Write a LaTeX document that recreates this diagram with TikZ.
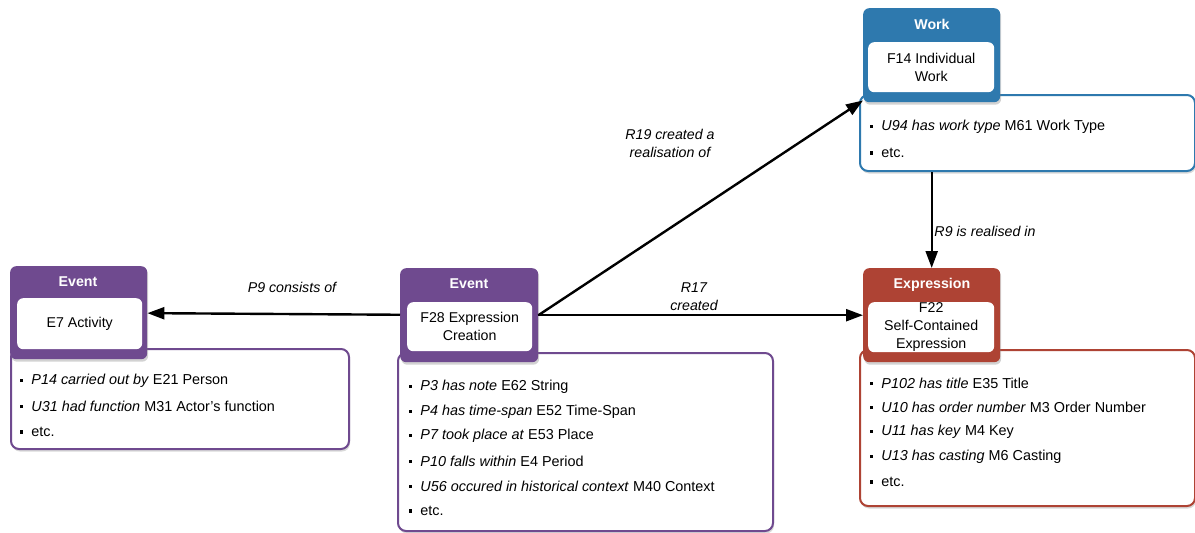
\documentclass[tikz,border=0pt]{standalone}
\usepackage{fontspec}
\setmainfont{Liberation Sans}
\usetikzlibrary{arrows.meta,shadows}
\definecolor{evpurple}{HTML}{6F4A8F}
\definecolor{wkblue}{HTML}{2E79AE}
\definecolor{exred}{HTML}{AE4334}
\newcommand{\bul}{\rule[3pt]{3.2pt}{3.2pt}\hspace{8pt}}
\tikzset{
  hdr/.style={draw=none, rounded corners=6pt, anchor=north west, inner sep=0pt,
    drop shadow={shadow xshift=1pt, shadow yshift=-2.5pt, opacity=0.35}},
  inbox/.style={fill=white, rounded corners=6pt, anchor=north west, inner sep=0pt},
  prop/.style={draw, line width=2pt, fill=white, rounded corners=8pt, anchor=north west, inner sep=0pt,
    drop shadow={shadow xshift=1pt, shadow yshift=-2.5pt, opacity=0.3}},
  htext/.style={text=white, font=\bfseries\fontsize{14.2}{16}\selectfont, inner sep=0pt},
  ctext/.style={font=\fontsize{14.2}{18}\selectfont, align=center, inner sep=0pt},
  item/.style={anchor=west, font=\fontsize{14.4}{16}\selectfont, inner sep=0pt},
  lbl/.style={font=\itshape\fontsize{14.2}{18}\selectfont, align=center, inner sep=0pt},
  arr/.style={line width=2.4pt, -{Triangle[length=17pt,width=12pt]}},
}
\begin{document}
\begin{tikzpicture}[x=1pt,y=-1pt]
\useasboundingbox (0,0) rectangle (1195,533);
% ---------- left Event ----------
\node[prop, draw=evpurple, minimum width=338pt, minimum height=100pt] (e1prop) at (10,348) {};
\node[hdr, fill=evpurple, minimum width=137pt, minimum height=93pt] (e1hdr) at (10,266) {};
\node[inbox, minimum width=125pt, minimum height=51pt] (e1in) at (17,298) {};
\node[htext] (e1t) at (78,282) {Event};
\node[ctext] (e1c) at (e1in.center) {E7 Activity};
\node[item] (e1a) at (20,381) {\bul\textit{P14 carried out by} E21 Person};
\node[item] (e1b) at (20,406) {\bul\textit{U31 had function} M31 Actor’s function};
\node[item] (e1d) at (20,432) {\bul etc.};
% ---------- middle Event ----------
\node[prop, draw=evpurple, minimum width=375pt, minimum height=178pt] (e2prop) at (397,352) {};
\node[hdr, fill=evpurple, minimum width=138pt, minimum height=94pt] (e2hdr) at (400,268) {};
\node[inbox, minimum width=125pt, minimum height=49pt] (e2in) at (407,302) {};
\node[htext] (e2t) at (469,284) {Event};
\node[ctext] (e2c) at (e2in.center) {F28 Expression\\Creation};
\node[item] (e2a) at (409,387) {\bul\textit{P3 has note} E62 String};
\node[item] (e2b) at (409,412) {\bul\textit{P4 has time-span} E52 Time-Span};
\node[item] (e2d) at (409,436) {\bul\textit{P7 took place at} E53 Place};
\node[item] (e2e) at (409,461) {\bul\textit{P10 falls within} E4 Period};
\node[item] (e2f) at (409,486) {\bul\textit{U56 occured in historical context} M40 Context};
\node[item] (e2g) at (409,511) {\bul etc.};
% ---------- Work ----------
\node[prop, draw=wkblue, minimum width=335pt, minimum height=76pt] (wprop) at (859,94) {};
\node[hdr, fill=wkblue, minimum width=137pt, minimum height=94pt] (whdr) at (863,8) {};
\node[inbox, minimum width=126pt, minimum height=50pt] (win) at (868,42) {};
\node[htext] (wt) at (932,24) {Work};
\node[ctext] (wc) at (win.center) {F14 Individual\\Work};
\node[item] (wa) at (870,127) {\bul\textit{U94 has work type} M61 Work Type};
\node[item] (wb) at (870,153) {\bul etc.};
% ---------- Expression ----------
\node[prop, draw=exred, minimum width=335pt, minimum height=156pt] (xprop) at (859,349) {};
\node[hdr, fill=exred, minimum width=137pt, minimum height=94pt] (xhdr) at (863,268) {};
\node[inbox, minimum width=126pt, minimum height=50pt] (xin) at (868,302) {};
\node[htext] (xt) at (932,285) {Expression};
\node[ctext] (xc) at (xin.center) {F22\\Self-Contained\\Expression};
\node[item] (xa) at (870,383) {\bul\textit{P102 has title} E35 Title};
\node[item] (xb) at (870,407) {\bul\textit{U10 has order number} M3 Order Number};
\node[item] (xd) at (870,432) {\bul\textit{U11 has key} M4 Key};
\node[item] (xe) at (870,457) {\bul\textit{U13 has casting} M6 Casting};
\node[item] (xf) at (870,482) {\bul etc.};
% ---------- connectors ----------
\draw[arr] (e2hdr) -- (e1hdr);
\draw[arr] (e2hdr.east) -- (xhdr);
\draw[arr] (e2hdr.east) -- (whdr);
\draw[arr] (whdr.south |- wprop.south) -- (xhdr.north);
% ---------- labels ----------
\node[lbl] (l9) at (292,287) {P9 consists of};
\node[lbl] (l17) at (694,297) {R17\\created};
\node[lbl] (l19) at (670,143) {R19 created a\\realisation of};
\node[lbl] (lr9) at (985,231) {R9 is realised in};
\end{tikzpicture}
\end{document}
